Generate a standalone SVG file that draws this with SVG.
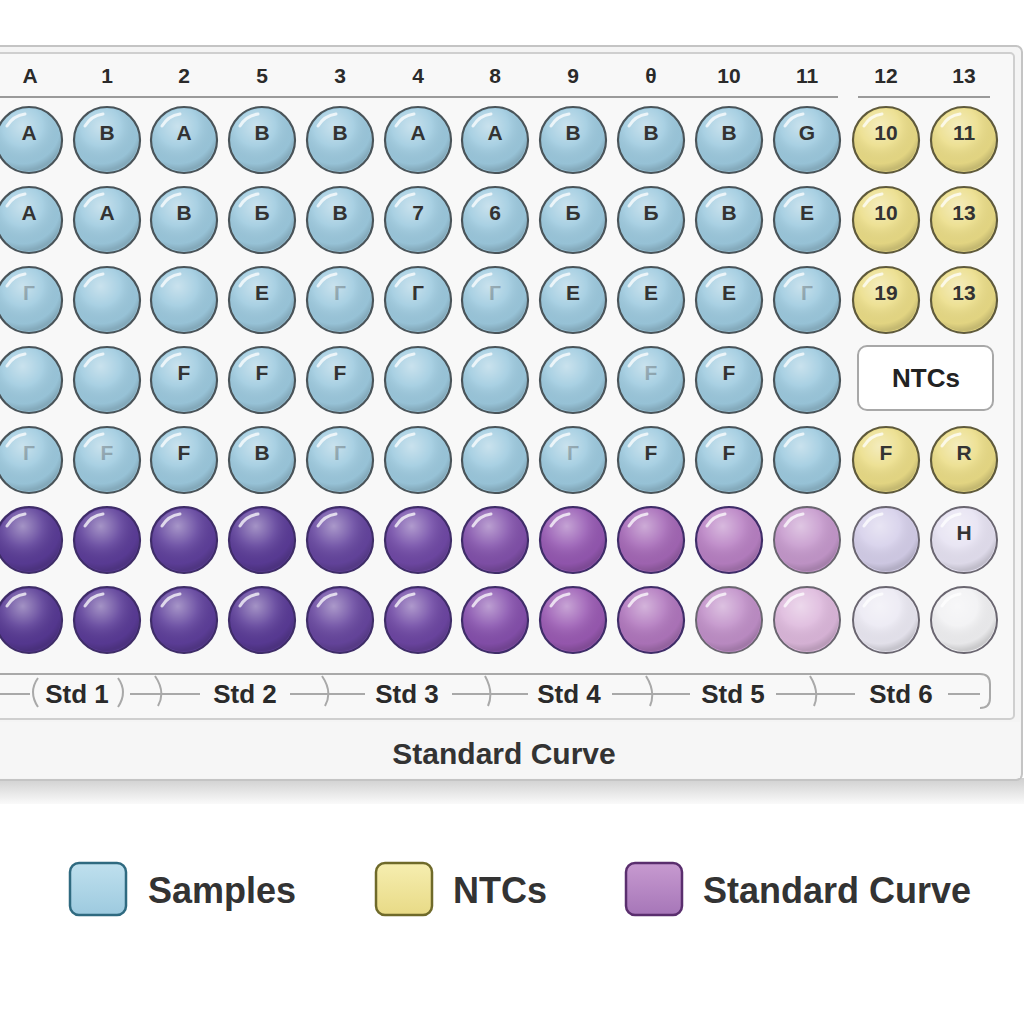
<svg xmlns="http://www.w3.org/2000/svg" xmlns:xlink="http://www.w3.org/1999/xlink" width="1024" height="1024" viewBox="0 0 1024 1024">
<style>
text{font-family:"Liberation Sans",Arial,sans-serif;font-weight:bold;fill:#2a2a2a}
.hd{font-size:21px;text-anchor:middle}
.wl{font-size:21px;text-anchor:middle;fill:#333}
.ft{opacity:0.3}
.s>circle{fill:#9dcadf;stroke:#4a5459;stroke-width:2.2}
.n>circle{fill:#ebdd87;stroke:#5f5a3c;stroke-width:2.2}
.p>circle{stroke:#3f2d68;stroke-width:2.2}
.pl>circle{stroke:#6a6670;stroke-width:2}
.std{font-size:26px;text-anchor:middle}
.br{fill:none;stroke:#a9a9a9;stroke-width:2}
.lg{font-size:36px;fill:#333}
</style>
<defs>
<radialGradient id="gloss" cx="0.4" cy="0.28" r="0.7">
<stop offset="0" stop-color="#fff" stop-opacity="0.45"/>
<stop offset="0.45" stop-color="#fff" stop-opacity="0.12"/>
<stop offset="0.85" stop-color="#000" stop-opacity="0.04"/>
<stop offset="1" stop-color="#000" stop-opacity="0.16"/>
</radialGradient>
<linearGradient id="shadow" x1="0" y1="0" x2="0" y2="1">
<stop offset="0" stop-color="#cfcfcf"/>
<stop offset="1" stop-color="#fafafa"/>
</linearGradient>
<g id="gl">
<circle r="31.5" fill="url(#gloss)"/>
<path d="M-22,-14 A25,25 0 0 1 -4,-26" fill="none" stroke="#fff" stroke-opacity="0.75" stroke-width="3" stroke-linecap="round"/>
</g>
<linearGradient id="lgS" x1="0" y1="0" x2="0" y2="1"><stop offset="0" stop-color="#bfe0ee"/><stop offset="1" stop-color="#9dcadf"/></linearGradient>
<linearGradient id="lgN" x1="0" y1="0" x2="0" y2="1"><stop offset="0" stop-color="#f6eeb0"/><stop offset="1" stop-color="#e8da86"/></linearGradient>
<linearGradient id="lgP" x1="0" y1="0" x2="0" y2="1"><stop offset="0" stop-color="#c79ad0"/><stop offset="1" stop-color="#a676b8"/></linearGradient>
</defs>

<rect x="0" y="0" width="1024" height="1024" fill="#ffffff"/>

<!-- plate -->
<g id="plate">
<rect x="-20" y="778" width="1044" height="26" fill="url(#shadow)"/>
<rect x="-20" y="46" width="1042" height="734" rx="6" fill="#f4f4f4" stroke="#c4c4c4" stroke-width="2"/>
<rect x="-20" y="53" width="1034" height="666" rx="4" fill="#f8f8f8" stroke="#cfcfcf" stroke-width="2"/>
<rect x="-20" y="722" width="1040" height="56" fill="#f6f6f6"/>
<line x1="0" y1="97" x2="838" y2="97" stroke="#9a9a9a" stroke-width="2"/>
<line x1="858" y1="97" x2="990" y2="97" stroke="#9a9a9a" stroke-width="2"/>
</g>

<g id="header">
<text class="hd" x="30" y="83">A</text>
<text class="hd" x="107" y="83">1</text>
<text class="hd" x="184" y="83">2</text>
<text class="hd" x="262" y="83">5</text>
<text class="hd" x="340" y="83">3</text>
<text class="hd" x="418" y="83">4</text>
<text class="hd" x="495" y="83">8</text>
<text class="hd" x="573" y="83">9</text>
<text class="hd" x="651" y="83">θ</text>
<text class="hd" x="729" y="83">10</text>
<text class="hd" x="807" y="83">11</text>
<text class="hd" x="886" y="83">12</text>
<text class="hd" x="964" y="83">13</text>
</g>

<g id="row1">
<g id="w1-1" class="s"><circle cx="29" cy="140" r="33"/><use href="#gl" x="29" y="140"/><text class="wl" x="29" y="140">A</text></g>
<g id="w1-2" class="s"><circle cx="107" cy="140" r="33"/><use href="#gl" x="107" y="140"/><text class="wl" x="107" y="140">B</text></g>
<g id="w1-3" class="s"><circle cx="184" cy="140" r="33"/><use href="#gl" x="184" y="140"/><text class="wl" x="184" y="140">A</text></g>
<g id="w1-4" class="s"><circle cx="262" cy="140" r="33"/><use href="#gl" x="262" y="140"/><text class="wl" x="262" y="140">B</text></g>
<g id="w1-5" class="s"><circle cx="340" cy="140" r="33"/><use href="#gl" x="340" y="140"/><text class="wl" x="340" y="140">B</text></g>
<g id="w1-6" class="s"><circle cx="418" cy="140" r="33"/><use href="#gl" x="418" y="140"/><text class="wl" x="418" y="140">A</text></g>
<g id="w1-7" class="s"><circle cx="495" cy="140" r="33"/><use href="#gl" x="495" y="140"/><text class="wl" x="495" y="140">A</text></g>
<g id="w1-8" class="s"><circle cx="573" cy="140" r="33"/><use href="#gl" x="573" y="140"/><text class="wl" x="573" y="140">B</text></g>
<g id="w1-9" class="s"><circle cx="651" cy="140" r="33"/><use href="#gl" x="651" y="140"/><text class="wl" x="651" y="140">B</text></g>
<g id="w1-10" class="s"><circle cx="729" cy="140" r="33"/><use href="#gl" x="729" y="140"/><text class="wl" x="729" y="140">B</text></g>
<g id="w1-11" class="s"><circle cx="807" cy="140" r="33"/><use href="#gl" x="807" y="140"/><text class="wl" x="807" y="140">G</text></g>
<g id="w1-12" class="n"><circle cx="886" cy="140" r="33"/><use href="#gl" x="886" y="140"/><text class="wl" x="886" y="140">10</text></g>
<g id="w1-13" class="n"><circle cx="964" cy="140" r="33"/><use href="#gl" x="964" y="140"/><text class="wl" x="964" y="140">11</text></g>
</g>

<g id="row2">
<g id="w2-1" class="s"><circle cx="29" cy="220" r="33"/><use href="#gl" x="29" y="220"/><text class="wl" x="29" y="220">A</text></g>
<g id="w2-2" class="s"><circle cx="107" cy="220" r="33"/><use href="#gl" x="107" y="220"/><text class="wl" x="107" y="220">A</text></g>
<g id="w2-3" class="s"><circle cx="184" cy="220" r="33"/><use href="#gl" x="184" y="220"/><text class="wl" x="184" y="220">B</text></g>
<g id="w2-4" class="s"><circle cx="262" cy="220" r="33"/><use href="#gl" x="262" y="220"/><text class="wl" x="262" y="220">Б</text></g>
<g id="w2-5" class="s"><circle cx="340" cy="220" r="33"/><use href="#gl" x="340" y="220"/><text class="wl" x="340" y="220">B</text></g>
<g id="w2-6" class="s"><circle cx="418" cy="220" r="33"/><use href="#gl" x="418" y="220"/><text class="wl" x="418" y="220">7</text></g>
<g id="w2-7" class="s"><circle cx="495" cy="220" r="33"/><use href="#gl" x="495" y="220"/><text class="wl" x="495" y="220">6</text></g>
<g id="w2-8" class="s"><circle cx="573" cy="220" r="33"/><use href="#gl" x="573" y="220"/><text class="wl" x="573" y="220">Б</text></g>
<g id="w2-9" class="s"><circle cx="651" cy="220" r="33"/><use href="#gl" x="651" y="220"/><text class="wl" x="651" y="220">Б</text></g>
<g id="w2-10" class="s"><circle cx="729" cy="220" r="33"/><use href="#gl" x="729" y="220"/><text class="wl" x="729" y="220">B</text></g>
<g id="w2-11" class="s"><circle cx="807" cy="220" r="33"/><use href="#gl" x="807" y="220"/><text class="wl" x="807" y="220">E</text></g>
<g id="w2-12" class="n"><circle cx="886" cy="220" r="33"/><use href="#gl" x="886" y="220"/><text class="wl" x="886" y="220">10</text></g>
<g id="w2-13" class="n"><circle cx="964" cy="220" r="33"/><use href="#gl" x="964" y="220"/><text class="wl" x="964" y="220">13</text></g>
</g>

<g id="row3">
<g id="w3-1" class="s"><circle cx="29" cy="300" r="33"/><use href="#gl" x="29" y="300"/><text class="wl ft" x="29" y="300">Г</text></g>
<g id="w3-2" class="s"><circle cx="107" cy="300" r="33"/><use href="#gl" x="107" y="300"/></g>
<g id="w3-3" class="s"><circle cx="184" cy="300" r="33"/><use href="#gl" x="184" y="300"/></g>
<g id="w3-4" class="s"><circle cx="262" cy="300" r="33"/><use href="#gl" x="262" y="300"/><text class="wl" x="262" y="300">E</text></g>
<g id="w3-5" class="s"><circle cx="340" cy="300" r="33"/><use href="#gl" x="340" y="300"/><text class="wl ft" x="340" y="300">Г</text></g>
<g id="w3-6" class="s"><circle cx="418" cy="300" r="33"/><use href="#gl" x="418" y="300"/><text class="wl" x="418" y="300">Г</text></g>
<g id="w3-7" class="s"><circle cx="495" cy="300" r="33"/><use href="#gl" x="495" y="300"/><text class="wl ft" x="495" y="300">Г</text></g>
<g id="w3-8" class="s"><circle cx="573" cy="300" r="33"/><use href="#gl" x="573" y="300"/><text class="wl" x="573" y="300">E</text></g>
<g id="w3-9" class="s"><circle cx="651" cy="300" r="33"/><use href="#gl" x="651" y="300"/><text class="wl" x="651" y="300">E</text></g>
<g id="w3-10" class="s"><circle cx="729" cy="300" r="33"/><use href="#gl" x="729" y="300"/><text class="wl" x="729" y="300">E</text></g>
<g id="w3-11" class="s"><circle cx="807" cy="300" r="33"/><use href="#gl" x="807" y="300"/><text class="wl ft" x="807" y="300">Г</text></g>
<g id="w3-12" class="n"><circle cx="886" cy="300" r="33"/><use href="#gl" x="886" y="300"/><text class="wl" x="886" y="300">19</text></g>
<g id="w3-13" class="n"><circle cx="964" cy="300" r="33"/><use href="#gl" x="964" y="300"/><text class="wl" x="964" y="300">13</text></g>
</g>

<g id="row4">
<g id="w4-1" class="s"><circle cx="29" cy="380" r="33"/><use href="#gl" x="29" y="380"/></g>
<g id="w4-2" class="s"><circle cx="107" cy="380" r="33"/><use href="#gl" x="107" y="380"/></g>
<g id="w4-3" class="s"><circle cx="184" cy="380" r="33"/><use href="#gl" x="184" y="380"/><text class="wl" x="184" y="380">F</text></g>
<g id="w4-4" class="s"><circle cx="262" cy="380" r="33"/><use href="#gl" x="262" y="380"/><text class="wl" x="262" y="380">F</text></g>
<g id="w4-5" class="s"><circle cx="340" cy="380" r="33"/><use href="#gl" x="340" y="380"/><text class="wl" x="340" y="380">F</text></g>
<g id="w4-6" class="s"><circle cx="418" cy="380" r="33"/><use href="#gl" x="418" y="380"/></g>
<g id="w4-7" class="s"><circle cx="495" cy="380" r="33"/><use href="#gl" x="495" y="380"/></g>
<g id="w4-8" class="s"><circle cx="573" cy="380" r="33"/><use href="#gl" x="573" y="380"/></g>
<g id="w4-9" class="s"><circle cx="651" cy="380" r="33"/><use href="#gl" x="651" y="380"/><text class="wl ft" x="651" y="380">F</text></g>
<g id="w4-10" class="s"><circle cx="729" cy="380" r="33"/><use href="#gl" x="729" y="380"/><text class="wl" x="729" y="380">F</text></g>
<g id="w4-11" class="s"><circle cx="807" cy="380" r="33"/><use href="#gl" x="807" y="380"/></g>
<g id="ntc-box"><rect x="858" y="346" width="135" height="64" rx="9" fill="#ffffff" stroke="#a8a8a8" stroke-width="2"/><text x="926" y="387" style="font-size:26px;text-anchor:middle;fill:#222">NTCs</text></g>
</g>

<g id="row5">
<g id="w5-1" class="s"><circle cx="29" cy="460" r="33"/><use href="#gl" x="29" y="460"/><text class="wl ft" x="29" y="460">Г</text></g>
<g id="w5-2" class="s"><circle cx="107" cy="460" r="33"/><use href="#gl" x="107" y="460"/><text class="wl ft" x="107" y="460">F</text></g>
<g id="w5-3" class="s"><circle cx="184" cy="460" r="33"/><use href="#gl" x="184" y="460"/><text class="wl" x="184" y="460">F</text></g>
<g id="w5-4" class="s"><circle cx="262" cy="460" r="33"/><use href="#gl" x="262" y="460"/><text class="wl" x="262" y="460">B</text></g>
<g id="w5-5" class="s"><circle cx="340" cy="460" r="33"/><use href="#gl" x="340" y="460"/><text class="wl ft" x="340" y="460">Г</text></g>
<g id="w5-6" class="s"><circle cx="418" cy="460" r="33"/><use href="#gl" x="418" y="460"/></g>
<g id="w5-7" class="s"><circle cx="495" cy="460" r="33"/><use href="#gl" x="495" y="460"/></g>
<g id="w5-8" class="s"><circle cx="573" cy="460" r="33"/><use href="#gl" x="573" y="460"/><text class="wl ft" x="573" y="460">Г</text></g>
<g id="w5-9" class="s"><circle cx="651" cy="460" r="33"/><use href="#gl" x="651" y="460"/><text class="wl" x="651" y="460">F</text></g>
<g id="w5-10" class="s"><circle cx="729" cy="460" r="33"/><use href="#gl" x="729" y="460"/><text class="wl" x="729" y="460">F</text></g>
<g id="w5-11" class="s"><circle cx="807" cy="460" r="33"/><use href="#gl" x="807" y="460"/></g>
<g id="w5-12" class="n"><circle cx="886" cy="460" r="33"/><use href="#gl" x="886" y="460"/><text class="wl" x="886" y="460">F</text></g>
<g id="w5-13" class="n"><circle cx="964" cy="460" r="33"/><use href="#gl" x="964" y="460"/><text class="wl" x="964" y="460">R</text></g>
</g>

<g id="row6">
<g id="w6-1" class="p"><circle cx="29" cy="540" r="33" fill="#5a3c97"/><use href="#gl" x="29" y="540"/></g>
<g id="w6-2" class="p"><circle cx="107" cy="540" r="33" fill="#5c3d99"/><use href="#gl" x="107" y="540"/></g>
<g id="w6-3" class="p"><circle cx="184" cy="540" r="33" fill="#5f409c"/><use href="#gl" x="184" y="540"/></g>
<g id="w6-4" class="p"><circle cx="262" cy="540" r="33" fill="#5b3c98"/><use href="#gl" x="262" y="540"/></g>
<g id="w6-5" class="p"><circle cx="340" cy="540" r="33" fill="#65459f"/><use href="#gl" x="340" y="540"/></g>
<g id="w6-6" class="p"><circle cx="418" cy="540" r="33" fill="#7049a6"/><use href="#gl" x="418" y="540"/></g>
<g id="w6-7" class="p"><circle cx="495" cy="540" r="33" fill="#8251ab"/><use href="#gl" x="495" y="540"/></g>
<g id="w6-8" class="p"><circle cx="573" cy="540" r="33" fill="#9558b2"/><use href="#gl" x="573" y="540"/></g>
<g id="w6-9" class="p"><circle cx="651" cy="540" r="33" fill="#a467b6"/><use href="#gl" x="651" y="540"/></g>
<g id="w6-10" class="p"><circle cx="729" cy="540" r="33" fill="#b880c3"/><use href="#gl" x="729" y="540"/></g>
<g id="w6-11" class="pl"><circle cx="807" cy="540" r="33" fill="#c598cc"/><use href="#gl" x="807" y="540"/></g>
<g id="w6-12" class="pl"><circle cx="886" cy="540" r="33" fill="#d5cfea"/><use href="#gl" x="886" y="540"/></g>
<g id="w6-13" class="pl"><circle cx="964" cy="540" r="33" fill="#e6e2f2"/><use href="#gl" x="964" y="540"/><text class="wl" x="964" y="540">H</text></g>
</g>

<g id="row7">
<g id="w7-1" class="p"><circle cx="29" cy="620" r="33" fill="#573994"/><use href="#gl" x="29" y="620"/></g>
<g id="w7-2" class="p"><circle cx="107" cy="620" r="33" fill="#5a3b97"/><use href="#gl" x="107" y="620"/></g>
<g id="w7-3" class="p"><circle cx="184" cy="620" r="33" fill="#5e3f9b"/><use href="#gl" x="184" y="620"/></g>
<g id="w7-4" class="p"><circle cx="262" cy="620" r="33" fill="#5a3b97"/><use href="#gl" x="262" y="620"/></g>
<g id="w7-5" class="p"><circle cx="340" cy="620" r="33" fill="#67469f"/><use href="#gl" x="340" y="620"/></g>
<g id="w7-6" class="p"><circle cx="418" cy="620" r="33" fill="#6d46a3"/><use href="#gl" x="418" y="620"/></g>
<g id="w7-7" class="p"><circle cx="495" cy="620" r="33" fill="#8650ad"/><use href="#gl" x="495" y="620"/></g>
<g id="w7-8" class="p"><circle cx="573" cy="620" r="33" fill="#9a5ab3"/><use href="#gl" x="573" y="620"/></g>
<g id="w7-9" class="p"><circle cx="651" cy="620" r="33" fill="#b076bd"/><use href="#gl" x="651" y="620"/></g>
<g id="w7-10" class="pl"><circle cx="729" cy="620" r="33" fill="#c08fc8"/><use href="#gl" x="729" y="620"/></g>
<g id="w7-11" class="pl"><circle cx="807" cy="620" r="33" fill="#ddb8dc"/><use href="#gl" x="807" y="620"/></g>
<g id="w7-12" class="pl"><circle cx="886" cy="620" r="33" fill="#ebe9f3"/><use href="#gl" x="886" y="620"/></g>
<g id="w7-13" class="pl"><circle cx="964" cy="620" r="33" fill="#f1f1f3"/><use href="#gl" x="964" y="620"/></g>
</g>

<g id="connectors">
<path class="br" d="M-10,674 H980 Q990,674 990,684 V698 Q990,708 980,708"/>
<path class="br" d="M38,678 Q28,692 38,707 M118,678 Q128,692 118,707"/>
<path class="br" d="M155,676 Q166,692 158,706 M322,676 Q333,692 325,706 M485,676 Q494,692 488,706 M646,676 Q656,692 650,706 M810,676 Q820,692 814,706"/>
<path class="br" d="M0,694 H30 M130,694 H200 M290,694 H365 M452,694 H528 M612,694 H690 M776,694 H855 M948,694 H980"/>
</g>

<g id="std-labels">
<text class="std" x="77" y="703">Std 1</text>
<text class="std" x="245" y="703">Std 2</text>
<text class="std" x="407" y="703">Std 3</text>
<text class="std" x="569" y="703">Std 4</text>
<text class="std" x="733" y="703">Std 5</text>
<text class="std" x="901" y="703">Std 6</text>
</g>

<g id="curve-label">
<text x="504" y="764" style="font-size:30px;text-anchor:middle;fill:#333">Standard Curve</text>
</g>

<g id="legend">
<g id="lg-samples"><rect x="70" y="863" width="56" height="52" rx="9" fill="url(#lgS)" stroke="#2f6a80" stroke-width="2.5"/><text class="lg" x="148" y="903">Samples</text></g>
<g id="lg-ntcs"><rect x="376" y="863" width="56" height="52" rx="9" fill="url(#lgN)" stroke="#6f6a2a" stroke-width="2.5"/><text class="lg" x="453" y="903">NTCs</text></g>
<g id="lg-std"><rect x="626" y="863" width="56" height="52" rx="9" fill="url(#lgP)" stroke="#5a2e6e" stroke-width="2.5"/><text class="lg" x="703" y="903">Standard Curve</text></g>
</g>
</svg>
